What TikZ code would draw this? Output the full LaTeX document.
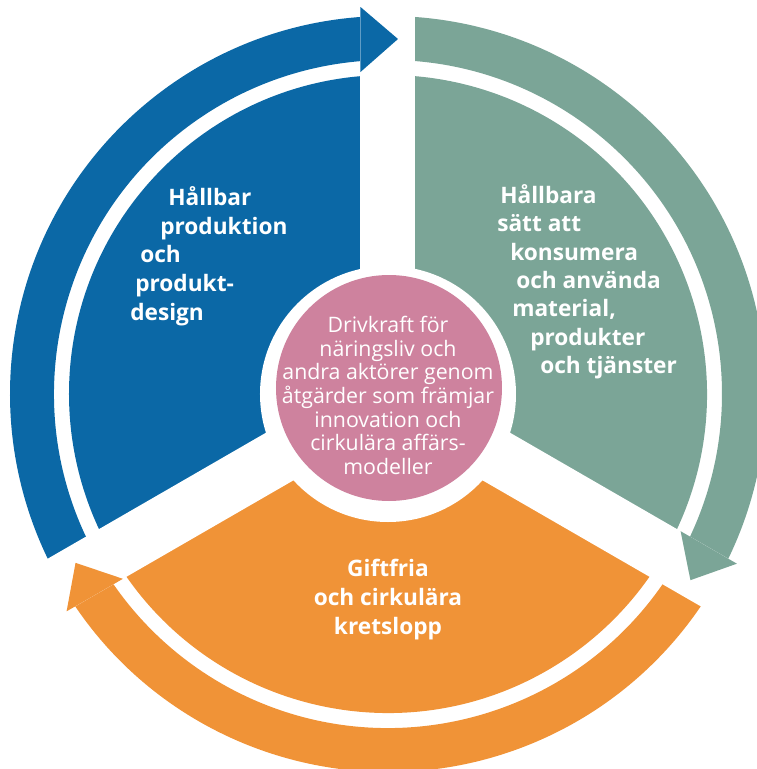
\documentclass[tikz,border=0pt]{standalone}
\usepackage{fontspec}
\setmainfont{Open Sans}
\usepackage{tikz}
\definecolor{cycblue}{RGB}{11,104,166}
\definecolor{cycteal}{RGB}{123,165,151}
\definecolor{cycorange}{RGB}{240,147,55}
\definecolor{cycpink}{RGB}{206,130,158}

\begin{document}
\begin{tikzpicture}[x=0.75pt,y=0.75pt,
  seclabel/.style={text=white,font=\bfseries\fontsize{17}{20}\selectfont,inner sep=0pt},
  midlabel/.style={text=white,font=\fontsize{16}{19}\selectfont,inner sep=0pt,anchor=base}]
  \clip (-388,-375) rectangle (369,394);
  % sectors and outer rings
  \foreach \rot/\col in {0/cycblue,-120/cycteal,120/cycorange}{
    \begin{scope}[rotate=\rot]
      \fill[\col] (0,0) -- (90:319) arc[start angle=90,end angle=210,radius=319] -- cycle;
      \fill[\col] (86:378) arc[start angle=86,end angle=214,radius=378]
        -- (214:334) arc[start angle=214,end angle=86,radius=334] -- cycle;
    \end{scope}
  }
  % white gaps
  \foreach \ang in {90,-30,210}
    \fill[white,rotate=\ang] (0,-27.5) rectangle (400,27.5);
  \fill[white] (0,0) circle[radius=128];
  \fill[cycpink] (1,6) circle[radius=113];
  % arrow heads
  \foreach \rot/\col in {0/cycblue,-120/cycteal,120/cycorange}
    \fill[\col,rotate=\rot] (-27.5,322) -- (10,355) -- (-27.5,387) -- cycle;
  % texts
  \foreach \txt/\xx/\yy [count=\i] in {Hållbar/-220/189,produktion/-228/160,och/-248/132,produkt-/-253/103,design/-258/74}
    \node[seclabel,anchor=base west] (prod\i) at (\xx,\yy) {\txt};
  \foreach \txt/\xx/\yy [count=\i] in {Hållbara/112/191,sätt att/109/163,konsumera/122/134,och använda/128/106,{material,}/124/78,produkter/142/49,och tjänster/152/21}
    \node[seclabel,anchor=base west] (kons\i) at (\xx,\yy) {\txt};
  \foreach \txt/\yy [count=\i] in {Giftfria/-182,och cirkulära/-211,kretslopp/-240}
    \node[seclabel,anchor=base] (gift\i) at (0,\yy) {\txt};
  \foreach \txt/\yy [count=\i] in {Drivkraft för/62,näringsliv och/38,andra aktörer genom/15,åtgärder som främjar/-9,innovation och/-33,cirkulära affärs-/-56,modeller/-80}
    \node[midlabel] (driv\i) at (0,\yy) {\txt};
\end{tikzpicture}
\end{document}
